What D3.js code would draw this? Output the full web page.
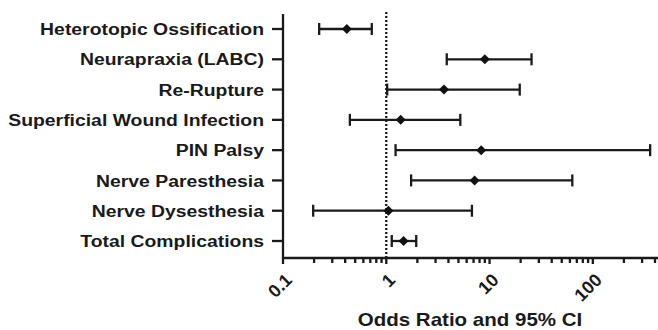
<!DOCTYPE html>
<html>
<head>
<meta charset="utf-8">
<script src="https://cdn.jsdelivr.net/npm/d3@7"></script>
<style>
  body { margin: 0; background: #fff; }
  svg { font-family: "Liberation Sans", Arial, sans-serif; }
</style>
</head>
<body>
<div id="chart"></div>
<script>
// forest plot data
const outcomes = ["Heterotopic Ossification", "Neurapraxia (LABC)", "Re-Rupture",
  "Superficial Wound Infection", "PIN Palsy", "Nerve Paresthesia",
  "Nerve Dysesthesia", "Total Complications"];
const oddsRatio = [0.415, 9.0, 3.62, 1.38, 8.3, 7.16, 1.05, 1.47];
const ciLow = [0.224, 3.85, 1.02, 0.444, 1.23, 1.74, 0.196, 1.13];
const ciHigh = [0.724, 25.5, 19.6, 5.21, 359, 63.3, 6.75, 1.95];
const xTicks = [0.1, 1, 10, 100];

const width = 658, height = 330;
const margin = {top: 14, right: 3, bottom: 72, left: 283};
const stretch = 1.14; // text in the original looks widened a bit
const sw = 2.3;

const rows = outcomes.map((o, i) => ({name: o, or: oddsRatio[i], lo: ciLow[i], hi: ciHigh[i]}));

const svg = d3.select("#chart").append("svg")
  .attr("width", width)
  .attr("height", height);

let x = d3.scaleLog()
  .domain([0.1, 400])
  .range([margin.left, width - margin.right]);

let y = d3.scalePoint()
  .domain(outcomes)
  .range([29, 241]);

const axisY = height - margin.bottom;

// minor ticks
let minor = [];
xTicks.forEach(d => {
  for (let k = 2; k <= 9; k++) {
    if (d * k <= 400) minor.push(d * k);
  }
});

// x axis
const gx = svg.append("g")
  .attr("transform", `translate(0, ${axisY})`);
gx.append("line")
  .attr("x1", x(0.1) - 1).attr("x2", width)
  .attr("stroke", "#1a1a1a").attr("stroke-width", sw);
gx.selectAll(".minor")
  .data(minor)
  .join("line")
  .attr("class", "minor")
  .attr("x1", d => x(d)).attr("x2", d => x(d))
  .attr("y1", 0).attr("y2", 5)
  .attr("stroke", "#1a1a1a").attr("stroke-width", sw);
gx.selectAll(".major")
  .data(xTicks)
  .join("line")
  .attr("class", "major")
  .attr("x1", d => x(d)).attr("x2", d => x(d))
  .attr("y1", 0).attr("y2", 6)
  .attr("stroke", "#1a1a1a").attr("stroke-width", sw);
gx.selectAll("text")
  .data(xTicks)
  .join("text")
  .attr("transform", d => `translate(${x(d) + 1}, 14) rotate(-45)`)
  .attr("text-anchor", "end")
  .attr("dy", "0.72em")
  .style("font-weight", "bold")
  .style("font-size", "18px")
  .attr("fill", "#1a1a1a")
  .text(d => d);

svg.append("text")
  .attr("transform", `translate(470, 326) scale(${stretch}, 1)`)
  .attr("text-anchor", "middle")
  .style("font-weight", "bold")
  .style("font-size", "18px")
  .attr("fill", "#1a1a1a")
  .text("Odds Ratio and 95% CI");

// y axis
const gy = svg.append("g");
gy.append("line")
  .attr("x1", margin.left).attr("x2", margin.left)
  .attr("y1", margin.top).attr("y2", axisY + 1)
  .attr("stroke", "#1a1a1a").attr("stroke-width", sw);
gy.selectAll(".tick")
  .data(outcomes)
  .join("line")
  .attr("class", "tick")
  .attr("x1", margin.left - 11).attr("x2", margin.left)
  .attr("y1", d => y(d)).attr("y2", d => y(d))
  .attr("stroke", "#1a1a1a").attr("stroke-width", sw);
gy.selectAll("text")
  .data(outcomes)
  .join("text")
  .attr("transform", d => `translate(${margin.left - 19}, ${y(d)}) scale(${stretch}, 1)`)
  .attr("dy", "0.36em")
  .attr("text-anchor", "end")
  .style("font-weight", "bold")
  .style("font-size", "17px")
  .attr("fill", "#1a1a1a")
  .text(d => d);

// reference line at OR = 1
svg.append("line")
  .attr("x1", x(1)).attr("x2", x(1))
  .attr("y1", margin.top - 2).attr("y2", axisY)
  .attr("stroke", "#1a1a1a").attr("stroke-width", sw)
  .attr("stroke-dasharray", "2,2");

// error bars
const bars = svg.append("g")
  .attr("stroke", "#1a1a1a")
  .attr("stroke-width", sw);
bars.selectAll(".ci")
  .data(rows)
  .join("line")
  .attr("class", "ci")
  .attr("x1", d => x(d.lo)).attr("x2", d => x(d.hi))
  .attr("y1", d => y(d.name)).attr("y2", d => y(d.name));
bars.selectAll(".capL")
  .data(rows)
  .join("line")
  .attr("class", "capL")
  .attr("x1", d => x(d.lo)).attr("x2", d => x(d.lo))
  .attr("y1", d => y(d.name) - 6).attr("y2", d => y(d.name) + 6);
bars.selectAll(".capR")
  .data(rows)
  .join("line")
  .attr("class", "capR")
  .attr("x1", d => x(d.hi)).attr("x2", d => x(d.hi))
  .attr("y1", d => y(d.name) - 6).attr("y2", d => y(d.name) + 6);

svg.append("g")
  .attr("fill", "#111")
  .selectAll("path")
  .data(rows)
  .join("path")
  .attr("transform", d => `translate(${x(d.or)}, ${y(d.name)})`)
  .attr("d", d3.symbol(d3.symbolDiamond2, 64));
</script>
</body>
</html>
